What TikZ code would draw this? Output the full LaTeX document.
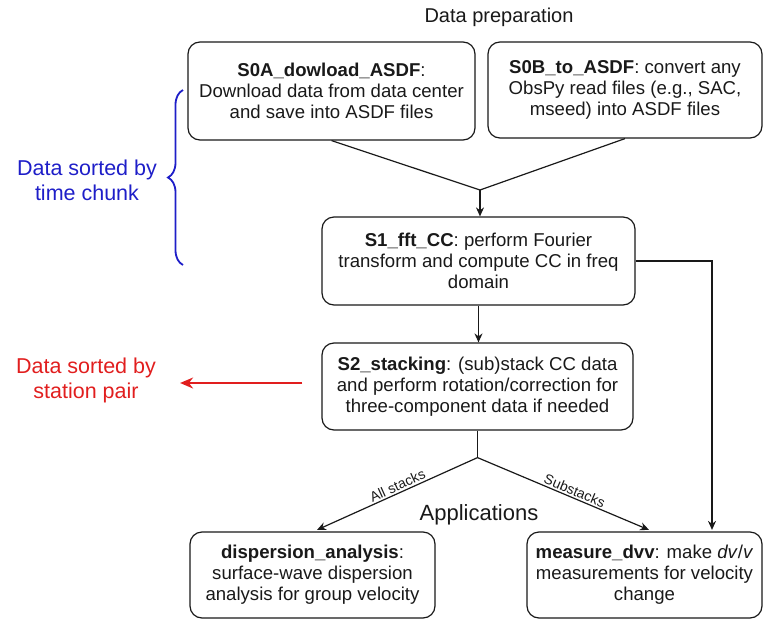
\documentclass[tikz,border=0pt]{standalone}
\usepackage{fontspec}
\setmainfont{Liberation Sans}
\usetikzlibrary{arrows.meta,decorations.pathreplacing}
\definecolor{ink}{RGB}{25,25,25}
\definecolor{bluelab}{RGB}{30,30,200}
\definecolor{redlab}{RGB}{225,30,30}
\begin{document}
\begin{tikzpicture}[x=1pt,y=-1pt,
  box/.style={draw=ink, line width=1.2pt, rounded corners=12pt, align=center, inner sep=0pt,
    font=\fontsize{18.6}{21}\selectfont, text=ink},
  arr/.style={draw=ink, line width=1.2pt, -{Stealth[length=9pt,width=8pt]}},
  ln/.style={draw=ink, line width=1.2pt},
  elab/.style={font=\fontsize{14}{16}\selectfont, text=ink, sloped, above, inner sep=2pt},
  head/.style={font=\fontsize{20}{24}\selectfont, text=ink, inner sep=0pt},
  sidelab/.style={align=center, inner sep=0pt, font=\fontsize{21.5}{25}\selectfont}
]
\useasboundingbox (0,0) rectangle (764,619);

\node[head] (title) at (499,17) {Data preparation};
\node[head, font=\fontsize{22}{26}\selectfont] (apps) at (479,515) {Applications};

\node[box, minimum width=287pt, minimum height=98pt] (s0a) at (331.5,91)
  {\textbf{S0A\_dowload\_ASDF}:\\Download data from data center\\and save into ASDF files};
\node[box, minimum width=274pt, minimum height=96pt] (s0b) at (625,90)
  {\textbf{S0B\_to\_ASDF}: convert any\\ObsPy read files (e.g., SAC,\\mseed) into ASDF files};
\node[box, minimum width=313pt, minimum height=88pt] (s1) at (478.5,261)
  {\textbf{S1\_fft\_CC}: perform Fourier\\transform and compute CC in freq\\domain};
\node[box, minimum width=311pt, minimum height=87pt] (s2) at (477.5,386.5)
  {\textbf{S2\_stacking}: (sub)stack CC data\\and perform rotation/correction for\\three-component data if needed};
\node[box, minimum width=245pt, minimum height=86pt] (disp) at (312.5,575)
  {\textbf{dispersion\_analysis}:\\surface-wave dispersion\\analysis for group velocity};
\node[box, minimum width=235pt, minimum height=86pt] (meas) at (644.5,575)
  {\textbf{measure\_dvv}: make \textit{dv}/\textit{v}\\measurements for velocity\\change};

\node[sidelab, text=bluelab] (blue) at (87,180) {Data sorted by\\time chunk};
\node[sidelab, text=redlab] (red) at (86,380) {Data sorted by\\station pair};

% connectors
\coordinate (m) at (480,190);
\draw[ln] (s0a.south) -- (m);
\draw[ln] (s0b.south) -- (m);
\draw[arr] (m) -- (m |- s1.north);
\draw[arr] (s1.south) -- (s1.south |- s2.north);
\coordinate (sp) at ([yshift=-27pt]s2.south);
\draw[ln] (s2.south) -- (sp);
\coordinate (dt) at ([xshift=4.5pt,yshift=1.5pt]disp.north);
\coordinate (mt) at ([xshift=4.5pt,yshift=1.5pt]meas.north);
\draw[arr] (sp) -- (dt);
\draw[arr] (sp) -- (mt);
\path (dt) -- (sp) node[elab, pos=0.52] {All stacks};
\path (sp) -- (mt) node[elab, pos=0.55] {Substacks};
\draw[arr] (s1.east) -| ([xshift=67.5pt,yshift=1.5pt]meas.north);

% red arrow
\draw[draw=redlab, line width=1.8pt, -{Stealth[length=13pt,width=11pt]}]
  ([xshift=-19pt,yshift=3.5pt]s2.west) -- ([xshift=24pt,yshift=-3pt]red.east);

% blue brace
\coordinate (bb) at (183,265);
\coordinate (bt) at (183,90);
\draw[draw=bluelab, line width=1.8pt, decorate, decoration={brace, amplitude=15pt}] (bb) -- (bt);
\end{tikzpicture}
\end{document}
